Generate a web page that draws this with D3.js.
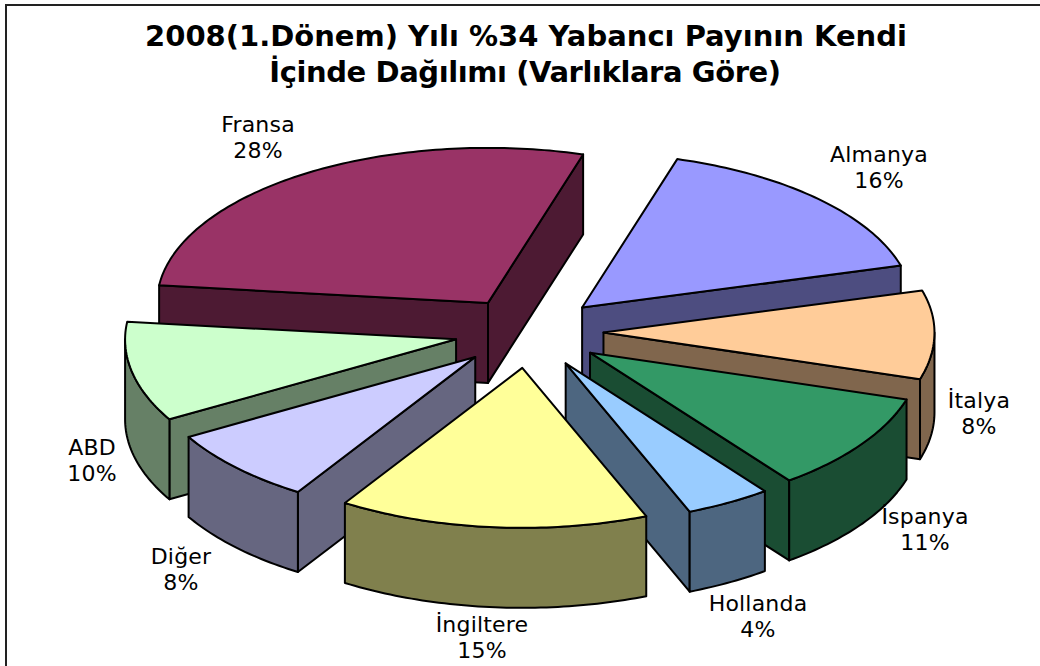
<!DOCTYPE html>
<html><head><meta charset="utf-8">
<script src="https://cdn.jsdelivr.net/npm/d3@7"></script>
<style>html,body{margin:0;background:#fff}svg{display:block}text{font-family:"DejaVu Sans",Verdana,sans-serif;fill:#000}</style>
</head><body><div id="chart"></div>
<script>
const titleLines = ["2008(1.Dönem) Yılı %34 Yabancı Payının Kendi", "İçinde Dağılımı (Varlıklara Göre)"];
const categories = ["Almanya","İtalya","İspanya","Hollanda","İngiltere","Diğer","ABD","Fransa"];
const shares = [16,8,11,4,15,8,10,28];
const topColors = ["#9999FF","#FFCC99","#339966","#99CCFF","#FFFF99","#CCCCFF","#CCFFCC","#993366"];
const wallColors = ["#4D4D80","#80664D","#1A4D33","#4D6680","#80804D","#666680","#668066","#4D1A33"];
const drawOrder = ["Fransa","Almanya","İtalya","ABD","Diğer","İspanya","Hollanda","İngiltere"];
// perspective correction of each slice's end edge, in degrees
const edgeWarp = [0,3.9,0.3,0.9,1.3,0.1,0.6,0];
const labelCentres = {Almanya:[879,154],"İtalya":[979,400],"İspanya":[925,516],Hollanda:[758,603],"İngiltere":[482,624],"Diğer":[181,556],ABD:[92,447],Fransa:[258,124]};

const W=1040,H=666, cx=529, cy=332, rx=331, ryBack=155, ryFront=160, depth=80, explode=0.225;
const rad=Math.PI/180, firstAngle=16.7*rad;
const svg=d3.select("#chart").append("svg").attr("width",W).attr("height",H);
svg.append("path").attr("d",d3.line()([[6,H],[6,5],[W,5]])).attr("fill","none").attr("stroke","#222").attr("stroke-width",2);

const t=svg.append("g").attr("text-anchor","middle").attr("font-weight","bold").attr("font-size",29);
t.selectAll("text").data(titleLines).join("text").attr("x",(d,i)=>i?525:526).attr("y",(d,i)=>46+i*36).attr("letter-spacing",(d,i)=>i?-0.42:0).text(d=>d);

const pie=d3.pie().sort(null).startAngle(firstAngle).endAngle(firstAngle+2*Math.PI);
const arcs=pie(shares).map((a,i)=>({...a,name:categories[i],top:topColors[i],wall:wallColors[i],
  a0:a.startAngle+(i?edgeWarp[i-1]:0)*rad,a1:a.endAngle+edgeWarp[i]*rad}));
const ex=d3.scaleLinear().domain([-1,1]).range([-rx,rx]);
const ey=c=>c>0?-c*ryBack:-c*ryFront;
function pt(a,k,o){return [o[0]+k*ex(Math.sin(a)),o[1]+k*ey(Math.cos(a))];}
const line=d3.line();
const down=p=>[p[0],p[1]+depth];
function rim(a0,a1,o){const n=Math.max(2,Math.ceil((a1-a0)/rad));return d3.range(n+1).map(i=>pt(a0+(a1-a0)*i/n,1,o));}
const g=svg.append("g").attr("stroke","#000").attr("stroke-width",2).attr("stroke-linejoin","round");
drawOrder.forEach(name=>{
  const s=arcs.find(a=>a.name===name);
  const mid=(s.a0+s.a1)/2;
  const o=pt(mid,explode,[cx,cy]);
  const sg=g.append("g");
  const A=o, P0=pt(s.a0,1,o), P1=pt(s.a1,1,o);
  const face=(p,q)=>sg.append("path").attr("d",line([p,q,down(q),down(p)])+"Z").attr("fill",s.wall);
  if(Math.sin(s.a0)<0) face(A,P0);
  if(Math.sin(s.a1)>0) face(A,P1);
  [[90,270],[450,630]].forEach(([lo,hi])=>{
    const a0=Math.max(s.a0,lo*rad),a1=Math.min(s.a1,hi*rad);
    if(a1>a0){const r=rim(a0,a1,o);sg.append("path").attr("d",line(r.concat(r.slice().reverse().map(down)))+"Z").attr("fill",s.wall);}
  });
  sg.append("path").attr("d",line([A,...rim(s.a0,s.a1,o)])+"Z").attr("fill",s.top);
});
const lab=svg.append("g").attr("text-anchor","middle").attr("font-size",22).attr("letter-spacing",0.2);
categories.forEach((c,i)=>{
  const [x,y]=labelCentres[c];
  lab.append("text").attr("x",x).attr("y",y+8).text(c);
  lab.append("text").attr("x",x).attr("y",y+34).text(Math.round(shares[i])+"%");
});
</script></body></html>
